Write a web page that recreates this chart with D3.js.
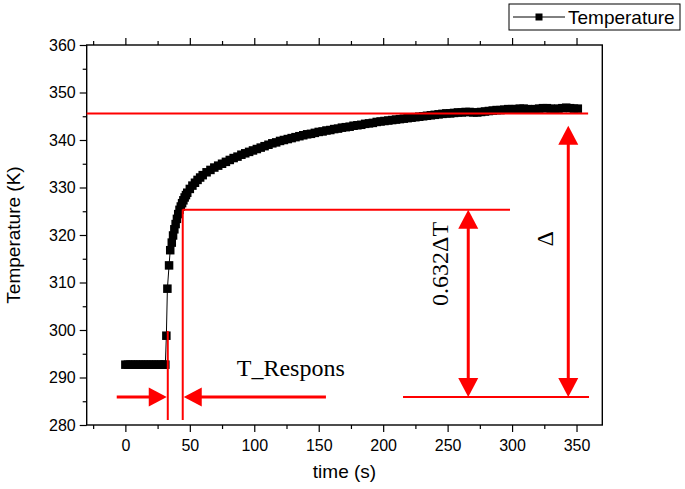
<!DOCTYPE html>
<html>
<head>
<meta charset="utf-8">
<script src="https://cdn.jsdelivr.net/npm/d3@7"></script>
<style>
  html, body { margin: 0; padding: 0; background: #fff; }
  svg { display: block; }
</style>
</head>
<body>
<svg id="chart" width="685" height="489"></svg>
<script>
// ---------------- data ----------------
const times = [
  0,2,4,6,8,10,12,14,16,18,20,22,24,26,28,30,31,
  31.8,32.6,33.9,34.8,36,37,38,39,40,41,42,43,44,45,46,47,48,50,52,54,56,58,60,
  63,66,69,72,75,78,81,84,87,90,93,96,99,102,105,108,111,114,117,120,
  123,126,129,132,135,138,141,144,147,150,153,156,159,162,165,168,171,174,177,180,
  183,186,189,192,195,198,201,204,207,210,213,216,219,222,225,228,231,234,237,240,
  243,246,249,252,255,258,261,264,267,270,273,276,279,282,285,288,291,294,297,300,
  303,306,309,312,315,318,321,324,327,330,333,336,339,342,345,348,351
];
const temps = [
  292.7,292.7,292.7,292.7,292.7,292.7,292.7,292.7,292.7,292.7,292.7,292.7,292.7,292.7,292.7,292.7,292.7,
  298.8,308.7,313.6,316.8,318.4,319.9,321.2,322.3,323.4,324.4,325.3,326.0,326.7,327.3,327.9,328.4,328.9,329.7,330.4,331.0,331.6,332.1,332.6,
  333.2,333.7,334.2,334.6,335.0,335.4,335.8,336.2,336.5,336.9,337.2,337.5,337.8,338.1,338.4,338.7,339.0,339.3,339.5,339.8,
  340.0,340.2,340.4,340.6,340.8,341.0,341.2,341.3,341.5,341.7,341.8,342.0,342.1,342.3,342.4,342.6,342.7,342.8,343.0,343.1,
  343.2,343.4,343.5,343.6,343.8,343.9,344.0,344.1,344.2,344.3,344.4,344.5,344.6,344.7,344.8,344.9,345.0,345.1,345.2,345.3,
  345.4,345.5,345.6,345.6,345.7,345.8,345.8,345.9,345.9,345.8,345.8,345.9,346.0,346.1,346.2,346.3,346.3,346.4,346.5,346.5,
  346.5,346.6,346.6,346.5,346.4,346.5,346.6,346.7,346.7,346.6,346.5,346.6,346.7,346.8,346.7,346.6,346.6
];
const xMajorTicks = [0,50,100,150,200,250,300,350];
const xMinorTicks = [-25,25,75,125,175,225,275,325];
const yMajorTicks = [280,290,300,310,320,330,340,350,360];
const yMinorTicks = [285,295,305,315,325,335,345,355];
const seriesName = "Temperature";
const xTitle = "time (s)";
const yTitle = "Temperature (K)";

// annotation geometry in data units
const finalLevel = 345.6;        // top horizontal line
const level632 = 325.3;          // 0.632 ΔT line
const baseLevel = 285.9;         // bottom reference level
const tStart = 32.9;             // response start
const tEnd = 44.5;               // response at 63.2 %

// ---------------- layout ----------------
const svg = d3.select("#chart");
const x = d3.scaleLinear().domain([-30, 370]).range([86.7, 602.3]);
const y = d3.scaleLinear().domain([280, 360]).range([425, 45]);
const red = "#ff0000";
const sans = "'Liberation Sans', Arial, sans-serif";
const serif = "'Liberation Serif', 'Times New Roman', serif";

// frame
const frame = svg.append("g").attr("stroke", "#000").attr("stroke-width", 1.4).attr("fill", "none");
frame.append("rect")
  .attr("x", x(-30)).attr("y", y(360))
  .attr("width", x(370) - x(-30)).attr("height", y(280) - y(360));

function styleAxis(g) {
  g.select(".domain").remove();
  g.selectAll(".tick line").attr("stroke", "#000").attr("stroke-width", 1.2);
  g.selectAll("text").attr("font-family", sans).attr("font-size", 16).attr("fill", "#000");
}

// bottom axis
svg.append("g").attr("transform", `translate(0,${y(280)})`)
  .call(d3.axisBottom(x).tickValues(xMajorTicks).tickSize(7).tickPadding(8).tickFormat(d3.format("d")))
  .call(styleAxis);
svg.append("g").attr("transform", `translate(0,${y(280)})`)
  .call(d3.axisBottom(x).tickValues(xMinorTicks).tickSize(4).tickFormat(""))
  .call(styleAxis);
// top axis
svg.append("g").attr("transform", `translate(0,${y(360)})`)
  .call(d3.axisTop(x).tickValues(xMajorTicks).tickSize(7).tickFormat(""))
  .call(styleAxis);
svg.append("g").attr("transform", `translate(0,${y(360)})`)
  .call(d3.axisTop(x).tickValues(xMinorTicks).tickSize(4).tickFormat(""))
  .call(styleAxis);
// left axis
svg.append("g").attr("transform", `translate(${x(-30)},0)`)
  .call(d3.axisLeft(y).tickValues(yMajorTicks).tickSize(7).tickPadding(4).tickFormat(d3.format("d")))
  .call(styleAxis);
svg.append("g").attr("transform", `translate(${x(-30)},0)`)
  .call(d3.axisLeft(y).tickValues(yMinorTicks).tickSize(4).tickFormat(""))
  .call(styleAxis);

// axis titles
svg.append("text")
  .attr("x", (x(-30) + x(370)) / 2).attr("y", 478)
  .attr("text-anchor", "middle").attr("font-family", sans).attr("font-size", 19)
  .text(xTitle);
svg.append("text")
  .attr("transform", `translate(20,${(y(280) + y(360)) / 2}) rotate(-90)`)
  .attr("text-anchor", "middle").attr("font-family", sans).attr("font-size", 19)
  .text(yTitle);

// ---------------- series ----------------
const data = times.map((t, i) => ({ t, v: temps[i] }));
const line = d3.line().x(d => x(d.t)).y(d => y(d.v));
svg.append("path").datum(data)
  .attr("d", line).attr("fill", "none").attr("stroke", "#000").attr("stroke-width", 1);
const ms = 8.5;
svg.append("g").selectAll("rect").data(data).join("rect")
  .attr("x", d => x(d.t) - ms / 2).attr("y", d => y(d.v) - ms / 2)
  .attr("width", ms).attr("height", ms).attr("fill", "#000");

// ---------------- annotations ----------------
const ann = svg.append("g");
function hline(t1, t2, v, w) {
  ann.append("line").attr("x1", x(t1)).attr("x2", x(t2)).attr("y1", y(v)).attr("y2", y(v))
    .attr("stroke", red).attr("stroke-width", w);
}
function vline(t, v1, v2, w) {
  ann.append("line").attr("x1", x(t)).attr("x2", x(t)).attr("y1", y(v1)).attr("y2", y(v2))
    .attr("stroke", red).attr("stroke-width", w);
}
// arrowhead: tip at (px,py), direction "up","down","left","right"
function head(px, py, dir, len, wid) {
  let pts;
  if (dir === "up") pts = [[px, py], [px - wid / 2, py + len], [px + wid / 2, py + len]];
  if (dir === "down") pts = [[px, py], [px - wid / 2, py - len], [px + wid / 2, py - len]];
  if (dir === "right") pts = [[px, py], [px - len, py - wid / 2], [px - len, py + wid / 2]];
  if (dir === "left") pts = [[px, py], [px + len, py - wid / 2], [px + len, py + wid / 2]];
  ann.append("path").attr("d", "M" + pts.map(p => p.join(",")).join("L") + "Z").attr("fill", red);
}

// horizontal reference lines
hline(-30, 359, finalLevel, 2);
hline(tEnd, 298.4, level632, 2);
hline(215.4, 359.7, baseLevel, 2);
// response verticals
vline(tStart, 299.8, 281.05, 2);
vline(tEnd, level632 + 0.1, 281.05, 2);

// Δ double arrow
const tDelta = 343.6;
vline(tDelta, 343.0 - 3, baseLevel + 3, 3);
head(x(tDelta), y(343.0), "up", 19, 20);
head(x(tDelta), y(baseLevel), "down", 19, 20);

// 0.632ΔT double arrow
const t632 = 266;
vline(t632, level632 - 3, baseLevel + 3, 3);
head(x(t632), y(level632), "up", 19, 20);
head(x(t632), y(baseLevel), "down", 19, 20);

// response-time arrows
hline(-6.7, 25, baseLevel, 3);
head(x(tStart) - 1, y(baseLevel), "right", 18, 19);
hline(52, 155.6, baseLevel, 3);
head(x(tEnd) + 1, y(baseLevel), "left", 18, 19);

// annotation texts
svg.append("text")
  .attr("x", x(86.4)).attr("y", y(290.3))
  .attr("font-family", serif).attr("font-size", 24).attr("fill", "#000")
  .text("T_Respons");
svg.append("text")
  .attr("transform", `translate(${x(250.5)},${y(313.9)}) rotate(-90)`)
  .attr("text-anchor", "middle")
  .attr("font-family", serif).attr("font-size", 24).attr("fill", "#000")
  .text("0.632ΔT");
svg.append("text")
  .attr("transform", `translate(${x(332)},${y(319.2)}) rotate(-90)`)
  .attr("text-anchor", "middle")
  .attr("font-family", serif).attr("font-size", 24).attr("fill", "#000")
  .text("Δ");

// ---------------- legend ----------------
const lg = svg.append("g");
lg.append("rect").attr("x", 509).attr("y", 4).attr("width", 171).attr("height", 26)
  .attr("fill", "#fff").attr("stroke", "#000").attr("stroke-width", 1);
lg.append("line").attr("x1", 513).attr("x2", 565).attr("y1", 17).attr("y2", 17)
  .attr("stroke", "#000").attr("stroke-width", 1);
lg.append("rect").attr("x", 539 - 3.5).attr("y", 17 - 3.5).attr("width", 7).attr("height", 7).attr("fill", "#000");
lg.append("text").attr("x", 568).attr("y", 24)
  .attr("font-family", sans).attr("font-size", 19).text(seriesName);
</script>
</body>
</html>
